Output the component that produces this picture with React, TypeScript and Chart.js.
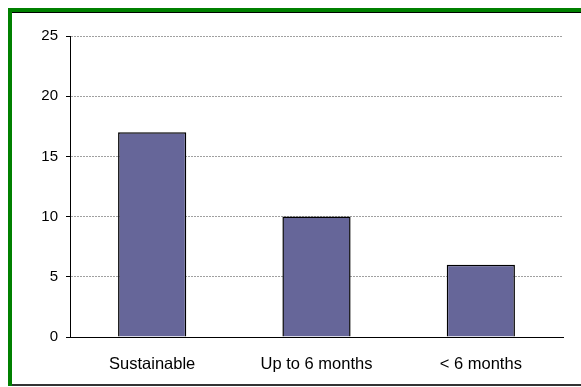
import React, { useEffect, useRef } from "react";
import { Chart, registerables } from "chart.js";

Chart.register(...registerables);

const categories: string[] = ["Sustainable", "Up to 6 months", "< 6 months"];
const counts: number[] = [17, 10, 6];
const yTicks: number[] = [0, 5, 10, 15, 20, 25];

export default function App() {
  const canvasRef = useRef<HTMLCanvasElement | null>(null);

  useEffect(() => {
    if (!canvasRef.current) return;
    const chart = new Chart(canvasRef.current, {
      type: "bar",
      data: {
        labels: categories,
        datasets: [
          {
            data: counts,
            backgroundColor: "#666699",
            borderColor: "#000000",
            borderWidth: 1.5,
            categoryPercentage: 1,
            barPercentage: 0.415,
          },
        ],
      },
      options: {
        responsive: false,
        animation: false,
        events: [],
        layout: { padding: { left: 0, right: 18, top: 36, bottom: 0 } },
        plugins: {
          legend: { display: false },
          tooltip: { enabled: false },
        },
        scales: {
          x: {
            grid: { display: false, drawTicks: false },
            border: { display: true, color: "#000000", width: 1 },
            ticks: {
              color: "#000000",
              padding: 18,
              font: { family: "'Liberation Sans', Arial, sans-serif", size: 16.5 },
            },
            afterFit: (scale: any) => {
              scale.height = 50;
            },
          },
          y: {
            min: 0,
            max: 25,
            afterBuildTicks: (scale: any) => {
              scale.ticks = yTicks.map((v) => ({ value: v }));
            },
            grid: {
              color: "#a0a0a0",
              lineWidth: 1,
              tickBorderDash: [],
              tickColor: "#000000",
              tickLength: 4,
              drawTicks: true,
            },
            border: { display: true, color: "#000000", width: 1, dash: [2, 1] },
            ticks: {
              color: "#000000",
              padding: 8,
              font: { family: "'Liberation Sans', Arial, sans-serif", size: 15 },
            },
            afterFit: (scale: any) => {
              scale.width = 70;
            },
          },
        },
      },
    });
    return () => chart.destroy();
  }, []);

  return (
    <div
      style={{
        position: "fixed",
        left: 0,
        top: 0,
        width: 581,
        height: 387,
        background: "#ffffff",
        overflow: "hidden",
      }}
    >
      <canvas
        ref={canvasRef}
        width={581}
        height={387}
        style={{ position: "absolute", left: 0, top: 0, width: 581, height: 387 }}
      />
      <div
        style={{
          position: "absolute",
          left: 8,
          top: 8,
          width: 600,
          height: 378,
          boxSizing: "border-box",
          borderTop: "4px solid #008000",
          borderLeft: "4px solid #008000",
          pointerEvents: "none",
        }}
      >
        <div style={{ position: "absolute", left: 0, right: 0, top: 0, height: 1, background: "#000" }} />
        <div style={{ position: "absolute", left: 0, right: 0, bottom: 0, height: 2, background: "#333" }} />
      </div>
    </div>
  );
}
